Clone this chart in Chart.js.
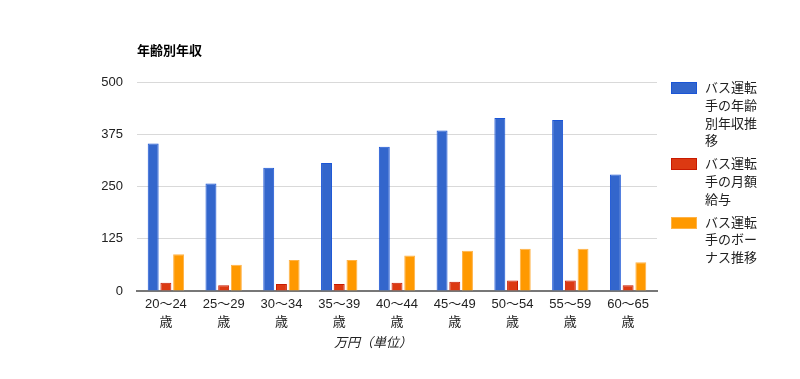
<!DOCTYPE html>
<html lang="ja">
<head>
<meta charset="utf-8">
<script src="https://cdn.jsdelivr.net/npm/chart.js@4/dist/chart.umd.min.js"></script>
<style>
  html, body { margin: 0; padding: 0; background: #fff; }
  #wrap { position: relative; width: 800px; height: 379px; }
  #legend {
    position: absolute; left: 671px; top: 79px;
    font-family: Arial, "Liberation Sans", "Noto Sans CJK JP", sans-serif;
    font-size: 13px; line-height: 17.8px; color: #222;
  }
  .item { display: flex; margin-bottom: 5px; }
  .box { width: 24px; height: 10px; margin-top: 3px; margin-right: 8px; border: 1px solid; flex: none; }
  .txt { width: 54px; word-break: break-all; }
</style>
</head>
<body>
<div id="wrap">
  <canvas id="c" width="800" height="379"></canvas>
  <div id="legend"></div>
</div>
<script>
// 年齢別年収 (万円)
var ageGroups = ['20〜24', '25〜29', '30〜34', '35〜39', '40〜44', '45〜49', '50〜54', '55〜59', '60〜65'];
var annualIncome = [353, 257, 295, 306, 345, 384, 414, 409, 279];
var monthlyPay = [20, 14, 17, 17, 20, 22, 25, 25, 14];
var bonus = [88, 63, 74, 74, 85, 96, 101, 101, 69];
var yTicks = [0, 125, 250, 375, 500];

var seriesNames = ['バス運転手の年齢別年収推移', 'バス運転手の月額給与', 'バス運転手のボーナス推移'];
var fills = ['#3366cc', '#dc3912', '#ff9900'];
var borders = ['#1a55d6', '#c81a00', '#ffb347'];

var FONT = 'Arial, "Liberation Sans", "Noto Sans CJK JP", sans-serif';

// title and x caption drawn straight on the canvas
var captions = {
  id: 'captions',
  afterDraw: function (chart) {
    var ctx = chart.ctx;
    var area = chart.chartArea;
    ctx.save();
    ctx.fillStyle = '#000';
    ctx.font = 'bold 13px ' + FONT;
    ctx.textBaseline = 'middle';
    ctx.textAlign = 'left';
    ctx.fillText('年齢別年収', area.left, 51);
    ctx.fillStyle = '#222';
    ctx.font = 'italic 13px ' + FONT;
    ctx.textAlign = 'center';
    ctx.fillText('万円（単位）', 373, 343);
    ctx.restore();
  }
};

var datasets = [annualIncome, monthlyPay, bonus].map(function (vals, i) {
  return {
    label: seriesNames[i],
    data: vals,
    backgroundColor: fills[i],
    borderColor: borders[i],
    borderWidth: 1,
    categoryPercentage: 0.66,
    barPercentage: 0.86
  };
});

var chart = new Chart(document.getElementById('c'), {
  type: 'bar',
  data: {
    labels: ageGroups.map(function (a) { return [a, '歳']; }),
    datasets: datasets
  },
  options: {
    responsive: false,
    animation: false,
    layout: { padding: { top: 82, right: 143, left: 0, bottom: 0 } },
    plugins: {
      legend: { display: false },
      tooltip: { enabled: false }
    },
    scales: {
      x: {
        grid: { display: false, drawTicks: false },
        border: { color: '#777', width: 2 },
        ticks: { color: '#222', font: { family: FONT, size: 13, lineHeight: 1.4 }, padding: 4, maxRotation: 0, autoSkip: false },
        afterFit: function (s) { s.height = 88; }
      },
      y: {
        min: 0,
        max: 500,
        afterBuildTicks: function (s) { s.ticks = yTicks.map(function (v) { return { value: v }; }); },
        grid: { color: '#d9d9d9', lineWidth: 1, drawTicks: false },
        border: { display: false },
        ticks: { color: '#222', font: { family: FONT, size: 13 }, padding: 14 },
        afterFit: function (s) { s.width = 137; }
      }
    }
  },
  plugins: [captions]
});

// legend with wrapped labels
var legend = document.getElementById('legend');
chart.data.datasets.forEach(function (ds) {
  var item = document.createElement('div');
  item.className = 'item';
  var box = document.createElement('div');
  box.className = 'box';
  box.style.background = ds.backgroundColor;
  box.style.borderColor = ds.borderColor;
  var txt = document.createElement('div');
  txt.className = 'txt';
  txt.textContent = ds.label;
  item.appendChild(box);
  item.appendChild(txt);
  legend.appendChild(item);
});
</script>
</body>
</html>
